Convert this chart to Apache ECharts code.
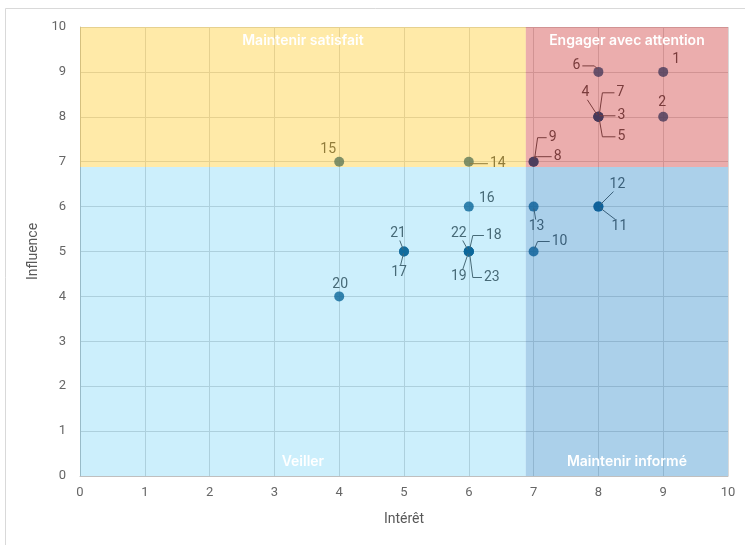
<!DOCTYPE html>
<html>
<head>
<meta charset="utf-8">
<script src="https://cdn.jsdelivr.net/npm/echarts@6/dist/echarts.min.js"></script>
<style>html,body{margin:0;padding:0;background:#fff}#c{width:745px;height:545px}</style>
</head>
<body>
<div id="c"></div>
<script>
// ---- data ----
const ids       = ['1','2','3','4','5','6','7','8','9','10','11','12','13','14','15','16','17','18','19','20','21','22','23'];
const interest  = [9,9,8,8,8,8,8,7,7,7,8,8,7,6,4,6,5,6,6,4,5,6,6];
const influence = [9,8,8,8,8,9,8,7,7,5,6,6,6,7,7,6,5,5,5,4,5,5,5];
const xTicks = [0,1,2,3,4,5,6,7,8,9,10];
const yTicks = [0,1,2,3,4,5,6,7,8,9,10];
const split = 6.88;
const quadrants = [
  {name:'Maintenir satisfait',     x:[0,split],  y:[split,10], color:'rgba(255,192,0,0.34)',  pos:'insideTop'},
  {name:'Engager avec attention',  x:[split,10], y:[split,10], color:'rgba(192,0,0,0.32)',    pos:'insideTop'},
  {name:'Veiller',                 x:[0,split],  y:[0,split],  color:'rgba(0,176,240,0.20)',  pos:'insideBottom'},
  {name:'Maintenir informé',       x:[split,10], y:[0,split],  color:'rgba(0,112,192,0.33)',  pos:'insideBottom'}
];

// ---- label placement styles (pixel offsets from point, leader type) ----
const labelOffsets = [[13,-12],[-1,-14],[23,-1],[-13,-24],[23,20],[-22,-6],[22,-24],[24,-5],[19,-24],[26,-10],
  [21,20],[19,-22],[3,20],[29,2],[-11,-12],[18,-8],[-5,21],[25,-16],[-10,25],[1,-12],[-6,-18],[-10,-18],[23,26]];
const leader = ['none','none','elbow','diag','elbow','elbow','elbow','elbow','elbow','elbow',
  'diag','diag','diag','elbow','none','none','diag','elbow','diag','none','diag','diag','elbow'];

const font = 'Roboto, "Liberation Sans", sans-serif';
const labelFont = '14px Roboto, "Liberation Sans", sans-serif';
const mctx = document.createElement('canvas').getContext('2d');
mctx.font = labelFont;
const textH = 14;

const pointData = ids.map((n,i)=>({name:n, value:[interest[i], influence[i]]}));

function renderLabel(params, api){
  const i = params.dataIndex;
  const c = api.coord([api.value(0), api.value(1)]);
  const cx = c[0], cy = c[1];
  const o = labelOffsets[i];
  const lx = cx + o[0], ly = cy + o[1];
  const w = mctx.measureText(ids[i]).width, h = textH;
  const children = [{
    type:'text', silent:true,
    style:{text:ids[i], x:lx, y:ly, align:'center', verticalAlign:'middle', fill:'#595959', font:labelFont}
  }];
  const t = leader[i];
  let pts = null;
  if (t === 'elbow') {
    const side = o[0] > 0 ? 1 : -1;
    const sx = lx - side*(w/2 + 2);
    const ex = cx + side*4;
    const endY = Math.abs(ly - cy) < 6 ? ly : cy + (ly < cy ? -3 : 3);
    pts = [[sx, ly], [ex, ly], [cx + side*1, endY]];
  } else if (t === 'diag') {
    const sy = o[1] > 0 ? ly - h/2 : ly + h/2;
    const sx = Math.abs(o[0]) > 6 ? lx + (o[0] > 0 ? -w/4 : w/4) : lx - o[0]*0.3;
    const dx = sx - cx, dy = sy - cy, d = Math.hypot(dx,dy);
    pts = [[sx, sy], [cx + dx/d*2, cy + dy/d*2]];
  }
  if (pts) children.push({type:'polyline', silent:true, shape:{points:pts}, style:{stroke:'#595959', lineWidth:1, fill:null}});
  return {type:'group', children};
}

const chart = echarts.init(document.getElementById('c'));
chart.setOption({
  animation:false,
  backgroundColor:'#fff',
  graphic:[{type:'rect', shape:{x:5.5,y:8.5,width:800,height:600}, style:{fill:'none', stroke:'#D9D9D9', lineWidth:1}, silent:true}],
  grid:{left:80, right:17, top:27, bottom:69},
  xAxis:{type:'value', min:0, max:10, interval:1,
    name:'Intérêt', nameLocation:'middle', nameGap:36,
    nameTextStyle:{color:'#595959', fontSize:14, fontFamily:font},
    axisLine:{show:true, lineStyle:{color:'#BFBFBF', width:1}},
    axisTick:{show:false},
    axisLabel:{color:'#666', fontSize:13, fontFamily:font, margin:10, formatter:v=>xTicks.includes(v)?String(v):''},
    splitLine:{show:true, lineStyle:{color:'#D9D9D9', width:1}}
  },
  yAxis:{type:'value', min:0, max:10, interval:1,
    name:'Influence', nameLocation:'middle', nameGap:32, nameRotate:90,
    nameTextStyle:{color:'#595959', fontSize:14, fontFamily:font},
    axisLine:{show:true, lineStyle:{color:'#BFBFBF', width:1}},
    axisTick:{show:false},
    axisLabel:{color:'#666', fontSize:13, fontFamily:font, margin:14, formatter:v=>yTicks.includes(v)?String(v):''},
    splitLine:{show:true, lineStyle:{color:'#D9D9D9', width:1}}
  },
  series:[
    {
      type:'scatter', z:2,
      symbol:'circle', symbolSize:10,
      itemStyle:{color:'#0E5584'},
      data:pointData
    },
    {
      type:'custom', z:3, silent:true,
      renderItem:renderLabel,
      data:pointData
    },
    {
      type:'scatter', z:5, data:[], silent:true,
      markArea:{
        silent:true, z:10,
        data: quadrants.map(q=>[
          {name:q.name, coord:[q.x[0], q.y[0]], itemStyle:{color:q.color},
           label:{position:q.pos}},
          {coord:[q.x[1], q.y[1]]}
        ]),
        label:{show:true, color:'#fff', fontSize:14, fontWeight:600, fontFamily:'Inter, "Noto Sans", sans-serif', distance:7},
        itemStyle:{borderWidth:0}
      }
    }
  ]
});
</script>
</body>
</html>
